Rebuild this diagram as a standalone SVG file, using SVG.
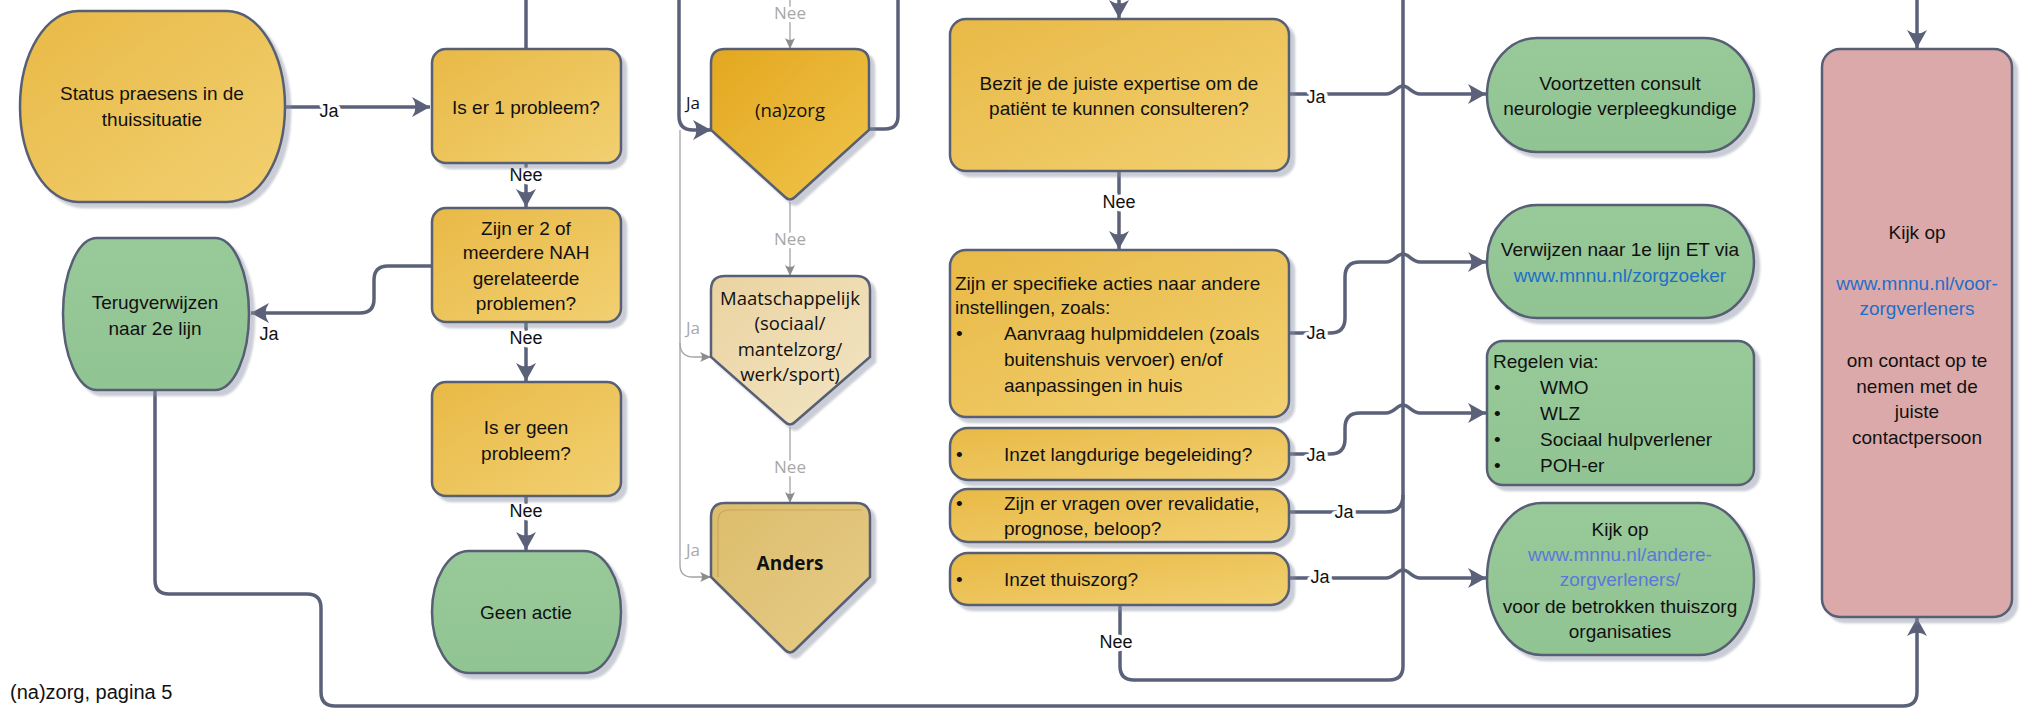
<svg xmlns="http://www.w3.org/2000/svg" width="2039" height="708" viewBox="0 0 2039 708">
<style>
.n{stroke:#575e73;stroke-width:2.5;filter:url(#sh)}
.y{fill:url(#gy)}
.g{fill:url(#gg)}
.p{fill:#dca9aa}
.t{font-family:"Liberation Sans",Arial,sans-serif;font-size:19px;fill:#111;text-anchor:middle}
.tl{font-family:"Liberation Sans",Arial,sans-serif;font-size:19px;fill:#111}
.o{font-family:"Open Sans",sans-serif;font-size:18.5px;fill:#111;text-anchor:middle}
.lk{fill:#1e6fc8}
.lk2{fill:#5a78d6}
.c{fill:none;stroke:#5a6178;stroke-width:3.5}
.cg{fill:none;stroke:#a3a3a3;stroke-width:1.3}
.l{font-family:"Liberation Sans",Arial,sans-serif;font-size:18px;fill:#111;text-anchor:middle;stroke:#fff;stroke-width:7px;paint-order:stroke;stroke-linejoin:round}
.lg{font-family:"Open Sans",sans-serif;font-size:17px;fill:#a8a8a8;text-anchor:middle;stroke:#fff;stroke-width:7px;paint-order:stroke;stroke-linejoin:round}
.ld{font-family:"Open Sans",sans-serif;font-size:17px;fill:#111;text-anchor:middle}
</style>
<defs>
<filter id="sh" x="-10%" y="-10%" width="130%" height="130%">
<feDropShadow dx="5" dy="5" stdDeviation="1.2" flood-color="#8a90a3" flood-opacity="0.45"/>
</filter>
<linearGradient id="gy" x1="0" y1="0" x2="1" y2="1"><stop offset="0" stop-color="#e8b946"/><stop offset="1" stop-color="#f2d071"/></linearGradient>
<linearGradient id="gn" x1="0" y1="0" x2="1" y2="1"><stop offset="0" stop-color="#e3a71f"/><stop offset="1" stop-color="#f0c54c"/></linearGradient>
<linearGradient id="gm" x1="0" y1="0" x2="1" y2="1"><stop offset="0" stop-color="#ead3a0"/><stop offset="1" stop-color="#f2e5c5"/></linearGradient>
<linearGradient id="ga" x1="0" y1="0" x2="1" y2="1"><stop offset="0" stop-color="#dcbd6c"/><stop offset="1" stop-color="#e7cc88"/></linearGradient>
<linearGradient id="gg" x1="0" y1="0" x2="0" y2="1"><stop offset="0" stop-color="#98c999"/><stop offset="1" stop-color="#91c493"/></linearGradient>
<marker id="a" markerUnits="userSpaceOnUse" markerWidth="20" markerHeight="20" viewBox="0 0 20 20" refX="18" refY="10" orient="auto"><path d="M0,0 L18,10 L0,20 Q7,10 0,0 Z" fill="#5a6178"/></marker>
<marker id="ag" markerUnits="userSpaceOnUse" markerWidth="12" markerHeight="12" viewBox="0 0 12 12" refX="11" refY="6" orient="auto"><path d="M0,1 L11,6 L0,11 Q4,6 0,1 Z" fill="#8c8c8c"/></marker>
</defs>

<g id="connectors">
<path class="c" d="M285,107 H430" marker-end="url(#a)"/>
<path class="c" d="M526,0 V49"/>
<path class="c" d="M526,163 V207" marker-end="url(#a)"/>
<path class="c" d="M432,266 H388 Q374,266 374,280 V299 Q374,313 360,313 H251" marker-end="url(#a)"/>
<path class="c" d="M526,322 V381" marker-end="url(#a)"/>
<path class="c" d="M526,496 V550" marker-end="url(#a)"/>
<path class="c" d="M155,390 V580 Q155,594 169,594 H307 Q321,594 321,608 V692 Q321,706 335,706 H1903 Q1917,706 1917,692 V618" marker-end="url(#a)"/>
<path class="c" d="M679,0 V116 Q679,130 693,130 H711" marker-end="url(#a)"/>
<path class="c" d="M869,129 H885 Q898,129 898,116 V0"/>
<path class="c" d="M1119,0 V18" marker-end="url(#a)"/>
<path class="c" d="M1119,171 V249" marker-end="url(#a)"/>
<path class="c" d="M1289,94 H1386 C1394,94 1397,86 1403,86 C1409,86 1412,94 1420,94 H1486" marker-end="url(#a)"/>
<path class="c" d="M1289,333 H1330 Q1345,333 1345,318 V277 Q1345,262 1360,262 H1386 C1394,262 1397,254 1403,254 C1409,254 1412,262 1420,262 H1486" marker-end="url(#a)"/>
<path class="c" d="M1289,454 H1330 Q1345,454 1345,439 V428 Q1345,413 1360,413 H1386 C1394,413 1397,405 1403,405 C1409,405 1412,413 1420,413 H1486" marker-end="url(#a)"/>
<path class="c" d="M1289,512 H1386 Q1403,512 1403,495"/>
<path class="c" d="M1289,578 H1386 C1394,578 1397,570 1403,570 C1409,570 1412,578 1420,578 H1486" marker-end="url(#a)"/>
<path class="c" d="M1120,605 V666 Q1120,680 1134,680 H1389 Q1403,680 1403,666 V0"/>
<path class="c" d="M1917,0 V48" marker-end="url(#a)"/>
<path class="cg" d="M790,0 V49" marker-end="url(#ag)"/>
<path class="cg" d="M790,202 V276" marker-end="url(#ag)"/>
<path class="cg" d="M790,427 V503" marker-end="url(#ag)"/>
<path class="cg" d="M680,130 V565 Q680,577 692,577 H711" marker-end="url(#ag)"/>
<path class="cg" d="M680,343 Q680,357 694,357 H711" marker-end="url(#ag)"/>
<text class="l" x="329" y="117">Ja</text>
<text class="l" x="526" y="181">Nee</text>
<text class="l" x="269" y="340">Ja</text>
<text class="l" x="526" y="344">Nee</text>
<text class="l" x="526" y="517">Nee</text>
<text class="l" x="1119" y="208">Nee</text>
<text class="l" x="1316" y="103">Ja</text>
<text class="l" x="1316" y="339">Ja</text>
<text class="l" x="1316" y="461">Ja</text>
<text class="l" x="1344" y="518">Ja</text>
<text class="l" x="1320" y="583">Ja</text>
<text class="l" x="1116" y="648">Nee</text>
<text class="ld" x="693" y="109">Ja</text>
<text class="lg" x="790" y="19">Nee</text>
<text class="lg" x="790" y="245">Nee</text>
<text class="lg" x="790" y="473">Nee</text>
<text class="lg" x="693" y="334">Ja</text>
<text class="lg" x="693" y="556">Ja</text>
</g>

<g id="status">
<path class="n y" d="M78,11 H227 A58,95.5 0 0 1 227,202 H78 A58,95.5 0 0 1 78,11 Z"/>
<text class="t" x="152" y="100">Status praesens in de</text>
<text class="t" x="152" y="126">thuissituatie</text>
</g>
<g id="probleem1">
<rect class="n y" x="432" y="49" width="189" height="114" rx="14"/>
<text class="t" x="526" y="114">Is er 1 probleem?</text>
</g>
<g id="probleem2">
<rect class="n y" x="432" y="208" width="189" height="114" rx="14"/>
<text class="t" x="526" y="235">Zijn er 2 of</text>
<text class="t" x="526" y="259">meerdere NAH</text>
<text class="t" x="526" y="285">gerelateerde</text>
<text class="t" x="526" y="310">problemen?</text>
</g>
<g id="geenprobleem">
<rect class="n y" x="432" y="382" width="189" height="114" rx="14"/>
<text class="t" x="526" y="434">Is er geen</text>
<text class="t" x="526" y="460">probleem?</text>
</g>
<g id="geenactie">
<path class="n g" d="M469,551 H584 A37,61 0 0 1 584,673 H469 A37,61 0 0 1 469,551 Z"/>
<text class="t" x="526" y="619">Geen actie</text>
</g>
<g id="terugverwijzen">
<path class="n g" d="M97,238 H215 A34,76 0 0 1 215,390 H97 A34,76 0 0 1 97,238 Z"/>
<text class="t" x="155" y="309">Terugverwijzen</text>
<text class="t" x="155" y="335">naar 2e lijn</text>
</g>

<g id="nazorg">
<path class="n" fill="url(#gn)" d="M725,49 H855 Q869,49 869,63 V130 L795,197 Q790,202 785,197 L711,130 V63 Q711,49 725,49 Z"/>
<text class="o" x="790" y="117">(na)zorg</text>
</g>
<g id="maatschappelijk">
<path class="n" fill="url(#gm)" d="M725,276 H856 Q870,276 870,290 V357 L795,422 Q790,427 785,422 L711,357 V290 Q711,276 725,276 Z"/>
<text class="o" x="790" y="305">Maatschappelijk</text>
<text class="o" x="790" y="330">(sociaal/</text>
<text class="o" x="790" y="356">mantelzorg/</text>
<text class="o" x="790" y="381">werk/sport)</text>
</g>
<g id="anders">
<path class="n" fill="url(#ga)" d="M725,503 H856 Q870,503 870,517 V577 L795,650 Q790,655 785,650 L711,577 V517 Q711,503 725,503 Z"/>
<path d="M718,577 V521 Q718,510 729,510 H862" fill="none" stroke="#c9a857" stroke-width="1.2"/>
<text class="o" x="790" y="570" style="font-weight:bold;font-size:19px">Anders</text>
</g>

<g id="bezit">
<rect class="n y" x="950" y="19" width="339" height="152" rx="16"/>
<text class="t" x="1119" y="90">Bezit je de juiste expertise om de</text>
<text class="t" x="1119" y="115">patiënt te kunnen consulteren?</text>
</g>
<g id="specifiek">
<rect class="n y" x="950" y="250" width="339" height="167" rx="16"/>
<text class="tl" x="955" y="290">Zijn er specifieke acties naar andere</text>
<text class="tl" x="955" y="314">instellingen, zoals:</text>
<text class="tl" x="956" y="340">•</text>
<text class="tl" x="1004" y="340">Aanvraag hulpmiddelen (zoals</text>
<text class="tl" x="1004" y="366">buitenshuis vervoer) en/of</text>
<text class="tl" x="1004" y="392">aanpassingen in huis</text>
</g>
<g id="langdurig">
<rect class="n y" x="950" y="428" width="339" height="52" rx="18"/>
<text class="tl" x="956" y="461">•</text>
<text class="tl" x="1004" y="461">Inzet langdurige begeleiding?</text>
</g>
<g id="revalidatie">
<rect class="n y" x="950" y="489" width="339" height="53" rx="18"/>
<text class="tl" x="956" y="510">•</text>
<text class="tl" x="1004" y="510">Zijn er vragen over revalidatie,</text>
<text class="tl" x="1004" y="535">prognose, beloop?</text>
</g>
<g id="thuiszorg">
<rect class="n y" x="950" y="553" width="339" height="52" rx="18"/>
<text class="tl" x="956" y="586">•</text>
<text class="tl" x="1004" y="586">Inzet thuiszorg?</text>
</g>

<g id="voortzetten">
<path class="n g" d="M1537,38 H1704 A50,57 0 0 1 1704,152 H1537 A50,57 0 0 1 1537,38 Z"/>
<text class="t" x="1620" y="90">Voortzetten consult</text>
<text class="t" x="1620" y="115">neurologie verpleegkundige</text>
</g>
<g id="verwijzen">
<path class="n g" d="M1537,205 H1704 A50,56.5 0 0 1 1704,318 H1537 A50,56.5 0 0 1 1537,205 Z"/>
<text class="t" x="1620" y="256">Verwijzen naar 1e lijn ET via</text>
<text class="t lk" x="1620" y="282">www.mnnu.nl/zorgzoeker</text>
</g>
<g id="regelen">
<rect class="n g" x="1487" y="341" width="267" height="144" rx="16"/>
<text class="tl" x="1493" y="368">Regelen via:</text>
<text class="tl" x="1494" y="394">•</text><text class="tl" x="1540" y="394">WMO</text>
<text class="tl" x="1494" y="420">•</text><text class="tl" x="1540" y="420">WLZ</text>
<text class="tl" x="1494" y="446">•</text><text class="tl" x="1540" y="446">Sociaal hulpverlener</text>
<text class="tl" x="1494" y="472">•</text><text class="tl" x="1540" y="472">POH-er</text>
</g>
<g id="kijkop-thuiszorg">
<path class="n g" d="M1542,503 H1699 A55,76 0 0 1 1699,655 H1542 A55,76 0 0 1 1542,503 Z"/>
<text class="t" x="1620" y="536">Kijk op</text>
<text class="t lk2" x="1620" y="561">www.mnnu.nl/andere-</text>
<text class="t lk2" x="1620" y="586">zorgverleners/</text>
<text class="t" x="1620" y="613">voor de betrokken thuiszorg</text>
<text class="t" x="1620" y="638">organisaties</text>
</g>
<g id="kijkop-contact">
<rect class="n p" x="1822" y="49" width="190" height="568" rx="18"/>
<text class="t" x="1917" y="239">Kijk op</text>
<text class="t lk" x="1917" y="290">www.mnnu.nl/voor-</text>
<text class="t lk" x="1917" y="315">zorgverleners</text>
<text class="t" x="1917" y="367">om contact op te</text>
<text class="t" x="1917" y="393">nemen met de</text>
<text class="t" x="1917" y="418">juiste</text>
<text class="t" x="1917" y="444">contactpersoon</text>
</g>

<text class="tl" x="10" y="699" style="font-size:20px">(na)zorg, pagina 5</text>
</svg>
